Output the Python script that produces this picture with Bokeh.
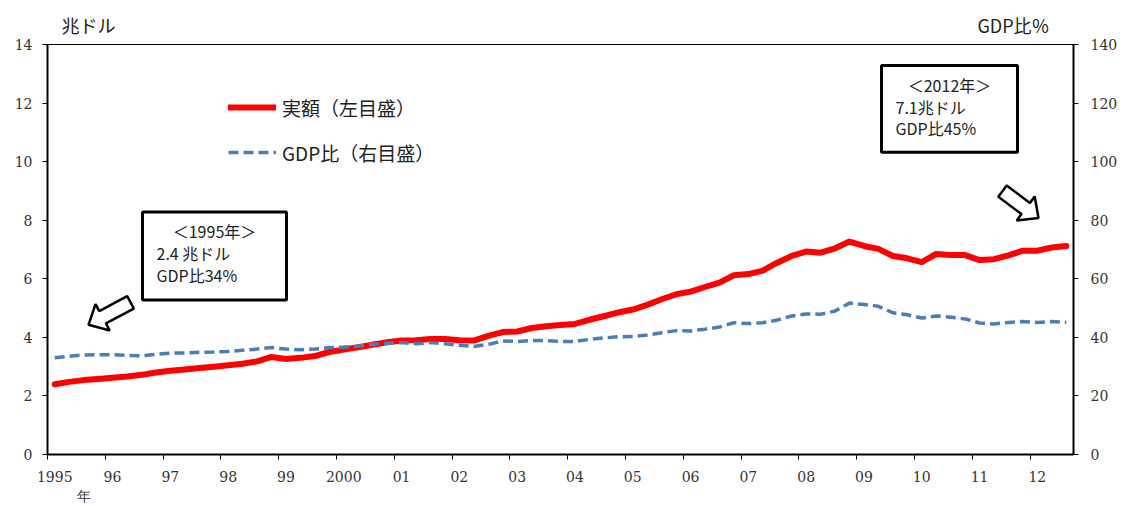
import math
import pandas as pd
from bokeh.plotting import figure
from bokeh.models import (Range1d, LinearAxis, FixedTicker, Legend, LegendItem,
                          Label, BoxAnnotation, PolyAnnotation)
from bokeh.embed import file_html
from bokeh.resources import INLINE

# ---------------- data ----------------
periods = pd.period_range("1995Q1", "2012Q3", freq="Q")

debt_trillion_usd = [
    2.40, 2.48, 2.54, 2.58, 2.62, 2.66, 2.72, 2.80,
    2.86, 2.90, 2.95, 3.00, 3.05, 3.10, 3.18, 3.33,
    3.26, 3.30, 3.36, 3.50, 3.58, 3.66, 3.75, 3.83,
    3.89, 3.90, 3.94, 3.94, 3.90, 3.89, 4.05, 4.18,
    4.20, 4.32, 4.38, 4.42, 4.46, 4.60, 4.72, 4.85,
    4.95, 5.11, 5.30, 5.47, 5.56, 5.72, 5.87, 6.12,
    6.16, 6.28, 6.55, 6.78, 6.93, 6.89, 7.04, 7.27,
    7.12, 7.02, 6.78, 6.70, 6.57, 6.85, 6.81, 6.81,
    6.64, 6.67, 6.80, 6.96, 6.96, 7.07, 7.12,
]

debt_pct_gdp = [
    33.0, 33.5, 34.0, 34.1, 34.1, 33.8, 33.7, 34.2,
    34.6, 34.7, 34.9, 35.0, 35.2, 35.6, 36.0, 36.5,
    36.0, 35.8, 36.0, 36.5, 36.7, 37.0, 37.6, 38.0,
    38.2, 37.8, 38.2, 37.8, 37.3, 36.9, 37.6, 38.8,
    38.6, 38.9, 38.9, 38.6, 38.6, 39.3, 39.8, 40.2,
    40.3, 40.8, 41.6, 42.3, 42.2, 42.8, 43.5, 45.0,
    44.7, 45.0, 45.9, 47.3, 48.0, 47.9, 49.0, 51.7,
    51.2, 50.6, 48.4, 47.7, 46.6, 47.3, 46.9, 46.3,
    44.9, 44.6, 45.1, 45.4, 45.1, 45.4, 45.1,
]

year_ticks = list(range(1995, 2013))
year_labels = ["1995", "96", "97", "98", "99", "2000", "01", "02", "03",
               "04", "05", "06", "07", "08", "09", "10", "11", "12"]
left_ticks = [0, 2, 4, 6, 8, 10, 12, 14]
right_ticks = [0, 20, 40, 60, 80, 100, 120, 140]

series_names = ["実額（左目盛）", "GDP比（右目盛）"]
left_unit = "兆ドル"
right_unit = "GDP比％"
year_unit = "年"

# quarter centres on a continuous year scale
x = [per.year + (per.quarter - 0.5) / 4 for per in periods]

# ---------------- figure ----------------
X0, X1 = 1995, 2012.75
FL, FR, FT, FB = 47, 1073, 44, 455          # frame edges in page pixels
W, H = 1121, 506
p = figure(width=W, height=H, x_range=Range1d(X0, X1), y_range=Range1d(0, 14),
           output_backend="svg", toolbar_location=None,
           x_axis_location=None, y_axis_location=None,
           min_border_left=FL, min_border_right=W - FR, min_border_top=FT,
           min_border_bottom=H - FB)
p.xgrid.visible = False
p.ygrid.visible = False
p.outline_line_color = "black"
p.outline_line_width = 1
p.background_fill_color = "white"
p.border_fill_color = "white"

NUM_FONT = "DejaVu Serif"
JP_FONT = "Noto Sans CJK JP"
TXT = "#222222"

def style_axis(ax):
    ax.axis_line_color = "black"
    ax.axis_line_width = 2
    ax.major_tick_line_color = "black"
    ax.major_tick_in = 0
    ax.major_tick_out = 5
    ax.minor_tick_line_color = None
    ax.major_label_text_font = NUM_FONT
    ax.major_label_text_font_size = "14px"
    ax.major_label_text_color = "#333333"

yl = LinearAxis(ticker=FixedTicker(ticks=left_ticks))
style_axis(yl)
yl.major_label_standoff = 10
p.add_layout(yl, "left")

p.extra_y_ranges = {"pct": Range1d(0, 140)}
yr = LinearAxis(y_range_name="pct", ticker=FixedTicker(ticks=right_ticks))
style_axis(yr)
yr.major_label_standoff = 12
p.add_layout(yr, "right")

# tick-mark axis (year boundaries)
xa = LinearAxis(ticker=FixedTicker(ticks=year_ticks),
                major_label_overrides={t: "" for t in year_ticks})
style_axis(xa)
xa.major_label_standoff = 0
p.add_layout(xa, "below")

# label axis: labels centred on first quarter of each year, "年" on a second line
p.extra_x_ranges = {"lab": Range1d(X0 - 0.125, X1 - 0.125),
                    "px": Range1d(FL, FR)}
lab_overrides = dict(zip(year_ticks, year_labels))
lab_overrides[1995.5] = "\n" + year_unit
xl = LinearAxis(x_range_name="lab", ticker=FixedTicker(ticks=year_ticks + [1995.5]),
                major_label_overrides=lab_overrides)
style_axis(xl)
xl.axis_line_color = None
xl.major_tick_out = 0
xl.major_label_standoff = 9
p.add_layout(xl, "below")

# unit captions above the frame
xt = LinearAxis(x_range_name="px", ticker=FixedTicker(ticks=[88, 1013]),
                major_label_overrides={88: left_unit, 1013: right_unit})
xt.axis_line_color = None
xt.major_tick_in = 0
xt.major_tick_out = 0
xt.minor_tick_line_color = None
xt.major_label_text_font = JP_FONT
xt.major_label_text_font_size = "18px"
xt.major_label_text_color = TXT
xt.major_label_standoff = 7
p.add_layout(xt, "above")

# ---------------- series ----------------
r1 = p.line(x, debt_trillion_usd, line_color="#ff0000", line_width=6,
            line_join="round", line_cap="round")
r2 = p.line(x, debt_pct_gdp, y_range_name="pct", line_color="#4a7ebb",
            line_width=3.5, line_dash="10 5")

legend = Legend(items=[LegendItem(label=series_names[0], renderers=[r1]),
                       LegendItem(label=series_names[1], renderers=[r2])],
                location=(181, 288), orientation="vertical", padding=0, margin=0,
                spacing=17, glyph_width=48, glyph_height=28, label_height=28,
                label_standoff=6, border_line_color=None, background_fill_alpha=0,
                label_text_font=JP_FONT, label_text_font_size="19px",
                label_text_color=TXT)
p.add_layout(legend, "center")

# ---------------- annotations (page-pixel helpers) ----------------
def dx(px):
    return X0 + (px - FL) / (FR - FL) * (X1 - X0)
def dy(py):
    return (FB - py) / (FB - FT) * 14

def add_label(px, py, text, align="left", size="16px", font=JP_FONT):
    p.add_layout(Label(x=dx(px), y=dy(py), text=text, text_align=align,
                       text_baseline="middle", text_font=font,
                       text_font_size=size, text_color=TXT))

def add_box(l, r, t, b):
    p.add_layout(BoxAnnotation(left=dx(l), right=dx(r), top=dy(t), bottom=dy(b),
                               fill_color="white", fill_alpha=1,
                               line_color="black", line_alpha=1, line_width=3))

add_box(142, 286, 212, 300)
add_label(214, 231, "＜1995年＞", align="center")
add_label(156, 253, "2.4 兆ドル")
add_label(156, 275, "GDP比34%")

add_box(881, 1017, 65, 152)
add_label(949, 85, "＜2012年＞", align="center")
add_label(895, 107, "7.1兆ドル")
add_label(895, 128, "GDP比45%")

def add_arrow(tail, tip, sw=14, hw=30, hl=16):
    ux, uy = tip[0] - tail[0], tip[1] - tail[1]
    L = math.hypot(ux, uy)
    ux, uy = ux / L, uy / L
    nx, ny = -uy, ux
    bx, by = tip[0] - ux * hl, tip[1] - uy * hl
    pts = [
        (tail[0] + nx * sw / 2, tail[1] + ny * sw / 2),
        (bx + nx * sw / 2, by + ny * sw / 2),
        (bx + nx * hw / 2, by + ny * hw / 2),
        tip,
        (bx - nx * hw / 2, by - ny * hw / 2),
        (bx - nx * sw / 2, by - ny * sw / 2),
        (tail[0] - nx * sw / 2, tail[1] - ny * sw / 2),
    ]
    p.add_layout(PolyAnnotation(xs=[dx(a) for a, _ in pts], ys=[dy(b) for _, b in pts],
                                fill_color="white", fill_alpha=1,
                                line_color="black", line_alpha=1, line_width=2.5))

add_arrow((130, 302.5), (88, 325))
add_arrow((1002, 191), (1038, 218))

open("out.html", "w").write(file_html(p, INLINE))
